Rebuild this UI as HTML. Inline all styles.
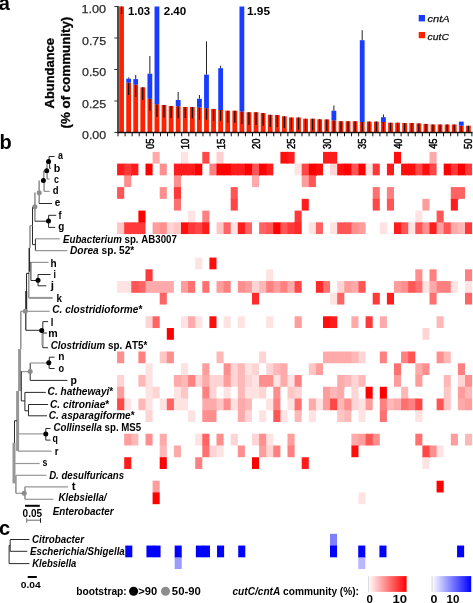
<!DOCTYPE html>
<html><head><meta charset="utf-8"><style>
html,body{margin:0;padding:0;background:#fff;}
body{width:473px;height:603px;overflow:hidden;position:relative;}
svg{position:absolute;left:0;top:0;display:block;}
text{font-family:"Liberation Sans", sans-serif;font-kerning:none;}
svg{will-change:transform;}
</style></head><body>
<svg width="473" height="603" viewBox="0 0 473 603" font-family='"Liberation Sans", sans-serif'>
<rect x="119.15" y="6.5" width="4.8" height="126" fill="#ff2200"/>
<line x1="121.55" y1="6.5" x2="121.55" y2="14" stroke="#111" stroke-width="1.2"/>
<rect x="126.23" y="82.7" width="4.8" height="49.8" fill="#ff2200"/>
<rect x="126.23" y="78.7" width="4.8" height="4" fill="#1a3cff"/>
<line x1="128.63" y1="77.4" x2="128.63" y2="78.7" stroke="#222" stroke-width="1"/>
<line x1="128.63" y1="82.7" x2="128.63" y2="95" stroke="#111" stroke-width="1.2"/>
<rect x="133.31" y="84.6" width="4.8" height="47.9" fill="#ff2200"/>
<rect x="133.31" y="79.1" width="4.8" height="5.5" fill="#1a3cff"/>
<line x1="135.71" y1="74.9" x2="135.71" y2="79.1" stroke="#222" stroke-width="1"/>
<line x1="135.71" y1="84.6" x2="135.71" y2="97" stroke="#111" stroke-width="1.2"/>
<rect x="140.38" y="87.3" width="4.8" height="45.2" fill="#ff2200"/>
<line x1="142.78" y1="87.3" x2="142.78" y2="100" stroke="#111" stroke-width="1.2"/>
<rect x="147.46" y="98.8" width="4.8" height="33.7" fill="#ff2200"/>
<rect x="147.46" y="73.7" width="4.8" height="25.1" fill="#1a3cff"/>
<line x1="149.86" y1="56" x2="149.86" y2="73.7" stroke="#222" stroke-width="1"/>
<line x1="149.86" y1="98.8" x2="149.86" y2="110.7" stroke="#111" stroke-width="1.2"/>
<rect x="154.54" y="104.2" width="4.8" height="28.3" fill="#ff2200"/>
<rect x="154.54" y="6.5" width="4.8" height="97.7" fill="#1a3cff"/>
<line x1="156.94" y1="104.2" x2="156.94" y2="116.7" stroke="#111" stroke-width="1.2"/>
<rect x="161.62" y="105" width="4.8" height="27.5" fill="#ff2200"/>
<line x1="164.02" y1="105" x2="164.02" y2="117.5" stroke="#111" stroke-width="1.2"/>
<rect x="168.7" y="106" width="4.8" height="26.5" fill="#ff2200"/>
<line x1="171.1" y1="106" x2="171.1" y2="118" stroke="#111" stroke-width="1.2"/>
<rect x="175.77" y="106.3" width="4.8" height="26.2" fill="#ff2200"/>
<rect x="175.77" y="100" width="4.8" height="6.3" fill="#1a3cff"/>
<line x1="178.17" y1="92" x2="178.17" y2="100" stroke="#222" stroke-width="1"/>
<line x1="178.17" y1="106.3" x2="178.17" y2="118.2" stroke="#111" stroke-width="1.2"/>
<rect x="182.85" y="107" width="4.8" height="25.5" fill="#ff2200"/>
<line x1="185.25" y1="107" x2="185.25" y2="118" stroke="#111" stroke-width="1.2"/>
<rect x="189.93" y="107" width="4.8" height="25.5" fill="#ff2200"/>
<line x1="192.33" y1="107" x2="192.33" y2="118.5" stroke="#111" stroke-width="1.2"/>
<rect x="197.01" y="107.5" width="4.8" height="25" fill="#ff2200"/>
<rect x="197.01" y="98.8" width="4.8" height="8.7" fill="#1a3cff"/>
<line x1="199.41" y1="95" x2="199.41" y2="98.8" stroke="#222" stroke-width="1"/>
<line x1="199.41" y1="107.5" x2="199.41" y2="119.7" stroke="#111" stroke-width="1.2"/>
<rect x="204.09" y="108.2" width="4.8" height="24.3" fill="#ff2200"/>
<rect x="204.09" y="74.6" width="4.8" height="33.6" fill="#1a3cff"/>
<line x1="206.49" y1="41.4" x2="206.49" y2="74.6" stroke="#222" stroke-width="1"/>
<line x1="206.49" y1="108.2" x2="206.49" y2="119.7" stroke="#111" stroke-width="1.2"/>
<rect x="211.16" y="109" width="4.8" height="23.5" fill="#ff2200"/>
<line x1="213.56" y1="109" x2="213.56" y2="121" stroke="#111" stroke-width="1.2"/>
<rect x="218.24" y="110" width="4.8" height="22.5" fill="#ff2200"/>
<rect x="218.24" y="68.2" width="4.8" height="41.8" fill="#1a3cff"/>
<line x1="220.64" y1="65.7" x2="220.64" y2="68.2" stroke="#222" stroke-width="1"/>
<line x1="220.64" y1="110" x2="220.64" y2="121" stroke="#111" stroke-width="1.2"/>
<rect x="225.32" y="110.7" width="4.8" height="21.8" fill="#ff2200"/>
<line x1="227.72" y1="110.7" x2="227.72" y2="122.7" stroke="#111" stroke-width="1.2"/>
<rect x="232.4" y="110.7" width="4.8" height="21.8" fill="#ff2200"/>
<line x1="234.8" y1="110.7" x2="234.8" y2="122.7" stroke="#111" stroke-width="1.2"/>
<rect x="239.48" y="111.5" width="4.8" height="21" fill="#ff2200"/>
<rect x="239.48" y="6.5" width="4.8" height="105" fill="#1a3cff"/>
<line x1="241.88" y1="111.5" x2="241.88" y2="124" stroke="#111" stroke-width="1.2"/>
<rect x="246.55" y="112.2" width="4.8" height="20.3" fill="#ff2200"/>
<line x1="248.95" y1="112.2" x2="248.95" y2="125" stroke="#111" stroke-width="1.2"/>
<rect x="253.63" y="112.2" width="4.8" height="20.3" fill="#ff2200"/>
<line x1="256.03" y1="112.2" x2="256.03" y2="125" stroke="#111" stroke-width="1.2"/>
<rect x="260.71" y="113" width="4.8" height="19.5" fill="#ff2200"/>
<line x1="263.11" y1="113" x2="263.11" y2="125.7" stroke="#111" stroke-width="1.2"/>
<rect x="267.79" y="114.8" width="4.8" height="17.7" fill="#ff2200"/>
<line x1="270.19" y1="114.8" x2="270.19" y2="127" stroke="#111" stroke-width="1.2"/>
<rect x="274.87" y="115" width="4.8" height="17.5" fill="#ff2200"/>
<line x1="277.27" y1="115" x2="277.27" y2="127" stroke="#111" stroke-width="1.2"/>
<rect x="281.94" y="116.3" width="4.8" height="16.2" fill="#ff2200"/>
<line x1="284.34" y1="116.3" x2="284.34" y2="128" stroke="#111" stroke-width="1.2"/>
<rect x="289.02" y="117.5" width="4.8" height="15" fill="#ff2200"/>
<line x1="291.42" y1="117.5" x2="291.42" y2="129.8" stroke="#111" stroke-width="1.2"/>
<rect x="296.1" y="117.5" width="4.8" height="15" fill="#ff2200"/>
<line x1="298.5" y1="117.5" x2="298.5" y2="129.8" stroke="#111" stroke-width="1.2"/>
<rect x="303.18" y="118.7" width="4.8" height="13.8" fill="#ff2200"/>
<line x1="305.58" y1="118.7" x2="305.58" y2="130.5" stroke="#111" stroke-width="1.2"/>
<rect x="310.26" y="118.7" width="4.8" height="13.8" fill="#ff2200"/>
<line x1="312.66" y1="118.7" x2="312.66" y2="130.5" stroke="#111" stroke-width="1.2"/>
<rect x="317.33" y="119.3" width="4.8" height="13.2" fill="#ff2200"/>
<line x1="319.73" y1="119.3" x2="319.73" y2="131" stroke="#111" stroke-width="1.2"/>
<rect x="324.41" y="119.4" width="4.8" height="13.1" fill="#ff2200"/>
<line x1="326.81" y1="119.4" x2="326.81" y2="131" stroke="#111" stroke-width="1.2"/>
<rect x="331.49" y="120.4" width="4.8" height="12.1" fill="#ff2200"/>
<rect x="331.49" y="110.7" width="4.8" height="9.7" fill="#1a3cff"/>
<line x1="333.89" y1="105.5" x2="333.89" y2="110.7" stroke="#222" stroke-width="1"/>
<line x1="333.89" y1="120.4" x2="333.89" y2="131.5" stroke="#111" stroke-width="1.2"/>
<rect x="338.57" y="121.2" width="4.8" height="11.3" fill="#ff2200"/>
<line x1="340.97" y1="121.2" x2="340.97" y2="131.5" stroke="#111" stroke-width="1.2"/>
<rect x="345.65" y="121.2" width="4.8" height="11.3" fill="#ff2200"/>
<line x1="348.05" y1="121.2" x2="348.05" y2="131.5" stroke="#111" stroke-width="1.2"/>
<rect x="352.72" y="121.2" width="4.8" height="11.3" fill="#ff2200"/>
<line x1="355.12" y1="121.2" x2="355.12" y2="131.5" stroke="#111" stroke-width="1.2"/>
<rect x="359.8" y="122" width="4.8" height="10.5" fill="#ff2200"/>
<rect x="359.8" y="40.2" width="4.8" height="81.8" fill="#1a3cff"/>
<line x1="362.2" y1="30.2" x2="362.2" y2="40.2" stroke="#222" stroke-width="1"/>
<line x1="362.2" y1="122" x2="362.2" y2="131.5" stroke="#111" stroke-width="1.2"/>
<rect x="366.88" y="121.6" width="4.8" height="10.9" fill="#ff2200"/>
<line x1="369.28" y1="121.6" x2="369.28" y2="131.5" stroke="#111" stroke-width="1.2"/>
<rect x="373.96" y="121.6" width="4.8" height="10.9" fill="#ff2200"/>
<line x1="376.36" y1="121.6" x2="376.36" y2="131.5" stroke="#111" stroke-width="1.2"/>
<rect x="381.04" y="122" width="4.8" height="10.5" fill="#ff2200"/>
<rect x="381.04" y="117.2" width="4.8" height="4.8" fill="#1a3cff"/>
<line x1="383.44" y1="114.5" x2="383.44" y2="117.2" stroke="#222" stroke-width="1"/>
<line x1="383.44" y1="122" x2="383.44" y2="131.5" stroke="#111" stroke-width="1.2"/>
<rect x="388.11" y="122.7" width="4.8" height="9.8" fill="#ff2200"/>
<line x1="390.51" y1="122.7" x2="390.51" y2="131.5" stroke="#111" stroke-width="1.2"/>
<rect x="395.19" y="122.7" width="4.8" height="9.8" fill="#ff2200"/>
<line x1="397.59" y1="122.7" x2="397.59" y2="131.5" stroke="#111" stroke-width="1.2"/>
<rect x="402.27" y="123" width="4.8" height="9.5" fill="#ff2200"/>
<line x1="404.67" y1="123" x2="404.67" y2="131.5" stroke="#111" stroke-width="1.2"/>
<rect x="409.35" y="123" width="4.8" height="9.5" fill="#ff2200"/>
<line x1="411.75" y1="123" x2="411.75" y2="131.5" stroke="#111" stroke-width="1.2"/>
<rect x="416.43" y="123.4" width="4.8" height="9.1" fill="#ff2200"/>
<line x1="418.83" y1="123.4" x2="418.83" y2="131.5" stroke="#111" stroke-width="1.2"/>
<rect x="423.5" y="123.9" width="4.8" height="8.6" fill="#ff2200"/>
<line x1="425.9" y1="123.9" x2="425.9" y2="131.5" stroke="#111" stroke-width="1.2"/>
<rect x="430.58" y="124.5" width="4.8" height="8" fill="#ff2200"/>
<line x1="432.98" y1="124.5" x2="432.98" y2="131.5" stroke="#111" stroke-width="1.2"/>
<rect x="437.66" y="124.5" width="4.8" height="8" fill="#ff2200"/>
<line x1="440.06" y1="124.5" x2="440.06" y2="131.5" stroke="#111" stroke-width="1.2"/>
<rect x="444.74" y="124.5" width="4.8" height="8" fill="#ff2200"/>
<line x1="447.14" y1="124.5" x2="447.14" y2="131.5" stroke="#111" stroke-width="1.2"/>
<rect x="451.82" y="124.5" width="4.8" height="8" fill="#ff2200"/>
<line x1="454.22" y1="124.5" x2="454.22" y2="131.5" stroke="#111" stroke-width="1.2"/>
<rect x="458.89" y="125.7" width="4.8" height="6.8" fill="#ff2200"/>
<rect x="458.89" y="121.6" width="4.8" height="4.1" fill="#1a3cff"/>
<line x1="461.29" y1="125.7" x2="461.29" y2="131.5" stroke="#111" stroke-width="1.2"/>
<rect x="465.97" y="125.7" width="4.8" height="6.8" fill="#ff2200"/>
<line x1="468.37" y1="125.7" x2="468.37" y2="131.5" stroke="#111" stroke-width="1.2"/>
<line x1="118.0" y1="6.0" x2="118.0" y2="132.5" stroke="#222" stroke-width="1.6"/>
<line x1="117.4" y1="132.5" x2="472.5" y2="132.5" stroke="#111" stroke-width="1.4"/>
<line x1="114.4" y1="132.5" x2="118.0" y2="132.5" stroke="#333" stroke-width="1"/>
<text x="82.01" y="139.1" font-size="11.6" fill="#2a2a2a" textLength="24.17" lengthAdjust="spacingAndGlyphs" stroke="#2a2a2a" stroke-width="0.25"><tspan font-weight="normal" font-style="normal">0.00</tspan></text>
<line x1="114.4" y1="101" x2="118.0" y2="101" stroke="#333" stroke-width="1"/>
<text x="82.01" y="107.6" font-size="11.6" fill="#2a2a2a" textLength="24.21" lengthAdjust="spacingAndGlyphs" stroke="#2a2a2a" stroke-width="0.25"><tspan font-weight="normal" font-style="normal">0.25</tspan></text>
<line x1="114.4" y1="69.5" x2="118.0" y2="69.5" stroke="#333" stroke-width="1"/>
<text x="82.01" y="76.1" font-size="11.6" fill="#2a2a2a" textLength="24.17" lengthAdjust="spacingAndGlyphs" stroke="#2a2a2a" stroke-width="0.25"><tspan font-weight="normal" font-style="normal">0.50</tspan></text>
<line x1="114.4" y1="38" x2="118.0" y2="38" stroke="#333" stroke-width="1"/>
<text x="82.01" y="44.6" font-size="11.6" fill="#2a2a2a" textLength="24.21" lengthAdjust="spacingAndGlyphs" stroke="#2a2a2a" stroke-width="0.25"><tspan font-weight="normal" font-style="normal">0.75</tspan></text>
<line x1="114.4" y1="6.5" x2="118.0" y2="6.5" stroke="#333" stroke-width="1"/>
<text x="81.53" y="13.1" font-size="11.6" fill="#2a2a2a" textLength="24.66" lengthAdjust="spacingAndGlyphs" stroke="#2a2a2a" stroke-width="0.25"><tspan font-weight="normal" font-style="normal">1.00</tspan></text>
<line x1="118" y1="132.5" x2="118" y2="136.3" stroke="#111" stroke-width="1"/>
<line x1="125.08" y1="132.5" x2="125.08" y2="136.3" stroke="#111" stroke-width="1"/>
<line x1="132.16" y1="132.5" x2="132.16" y2="136.3" stroke="#111" stroke-width="1"/>
<line x1="139.23" y1="132.5" x2="139.23" y2="136.3" stroke="#111" stroke-width="1"/>
<line x1="146.31" y1="132.5" x2="146.31" y2="136.3" stroke="#111" stroke-width="1"/>
<line x1="153.39" y1="132.5" x2="153.39" y2="136.3" stroke="#111" stroke-width="1"/>
<line x1="160.47" y1="132.5" x2="160.47" y2="136.3" stroke="#111" stroke-width="1"/>
<line x1="167.55" y1="132.5" x2="167.55" y2="136.3" stroke="#111" stroke-width="1"/>
<line x1="174.62" y1="132.5" x2="174.62" y2="136.3" stroke="#111" stroke-width="1"/>
<line x1="181.7" y1="132.5" x2="181.7" y2="136.3" stroke="#111" stroke-width="1"/>
<line x1="188.78" y1="132.5" x2="188.78" y2="136.3" stroke="#111" stroke-width="1"/>
<line x1="195.86" y1="132.5" x2="195.86" y2="136.3" stroke="#111" stroke-width="1"/>
<line x1="202.94" y1="132.5" x2="202.94" y2="136.3" stroke="#111" stroke-width="1"/>
<line x1="210.01" y1="132.5" x2="210.01" y2="136.3" stroke="#111" stroke-width="1"/>
<line x1="217.09" y1="132.5" x2="217.09" y2="136.3" stroke="#111" stroke-width="1"/>
<line x1="224.17" y1="132.5" x2="224.17" y2="136.3" stroke="#111" stroke-width="1"/>
<line x1="231.25" y1="132.5" x2="231.25" y2="136.3" stroke="#111" stroke-width="1"/>
<line x1="238.33" y1="132.5" x2="238.33" y2="136.3" stroke="#111" stroke-width="1"/>
<line x1="245.4" y1="132.5" x2="245.4" y2="136.3" stroke="#111" stroke-width="1"/>
<line x1="252.48" y1="132.5" x2="252.48" y2="136.3" stroke="#111" stroke-width="1"/>
<line x1="259.56" y1="132.5" x2="259.56" y2="136.3" stroke="#111" stroke-width="1"/>
<line x1="266.64" y1="132.5" x2="266.64" y2="136.3" stroke="#111" stroke-width="1"/>
<line x1="273.72" y1="132.5" x2="273.72" y2="136.3" stroke="#111" stroke-width="1"/>
<line x1="280.79" y1="132.5" x2="280.79" y2="136.3" stroke="#111" stroke-width="1"/>
<line x1="287.87" y1="132.5" x2="287.87" y2="136.3" stroke="#111" stroke-width="1"/>
<line x1="294.95" y1="132.5" x2="294.95" y2="136.3" stroke="#111" stroke-width="1"/>
<line x1="302.03" y1="132.5" x2="302.03" y2="136.3" stroke="#111" stroke-width="1"/>
<line x1="309.11" y1="132.5" x2="309.11" y2="136.3" stroke="#111" stroke-width="1"/>
<line x1="316.18" y1="132.5" x2="316.18" y2="136.3" stroke="#111" stroke-width="1"/>
<line x1="323.26" y1="132.5" x2="323.26" y2="136.3" stroke="#111" stroke-width="1"/>
<line x1="330.34" y1="132.5" x2="330.34" y2="136.3" stroke="#111" stroke-width="1"/>
<line x1="337.42" y1="132.5" x2="337.42" y2="136.3" stroke="#111" stroke-width="1"/>
<line x1="344.5" y1="132.5" x2="344.5" y2="136.3" stroke="#111" stroke-width="1"/>
<line x1="351.57" y1="132.5" x2="351.57" y2="136.3" stroke="#111" stroke-width="1"/>
<line x1="358.65" y1="132.5" x2="358.65" y2="136.3" stroke="#111" stroke-width="1"/>
<line x1="365.73" y1="132.5" x2="365.73" y2="136.3" stroke="#111" stroke-width="1"/>
<line x1="372.81" y1="132.5" x2="372.81" y2="136.3" stroke="#111" stroke-width="1"/>
<line x1="379.89" y1="132.5" x2="379.89" y2="136.3" stroke="#111" stroke-width="1"/>
<line x1="386.96" y1="132.5" x2="386.96" y2="136.3" stroke="#111" stroke-width="1"/>
<line x1="394.04" y1="132.5" x2="394.04" y2="136.3" stroke="#111" stroke-width="1"/>
<line x1="401.12" y1="132.5" x2="401.12" y2="136.3" stroke="#111" stroke-width="1"/>
<line x1="408.2" y1="132.5" x2="408.2" y2="136.3" stroke="#111" stroke-width="1"/>
<line x1="415.28" y1="132.5" x2="415.28" y2="136.3" stroke="#111" stroke-width="1"/>
<line x1="422.35" y1="132.5" x2="422.35" y2="136.3" stroke="#111" stroke-width="1"/>
<line x1="429.43" y1="132.5" x2="429.43" y2="136.3" stroke="#111" stroke-width="1"/>
<line x1="436.51" y1="132.5" x2="436.51" y2="136.3" stroke="#111" stroke-width="1"/>
<line x1="443.59" y1="132.5" x2="443.59" y2="136.3" stroke="#111" stroke-width="1"/>
<line x1="450.67" y1="132.5" x2="450.67" y2="136.3" stroke="#111" stroke-width="1"/>
<line x1="457.74" y1="132.5" x2="457.74" y2="136.3" stroke="#111" stroke-width="1"/>
<line x1="464.82" y1="132.5" x2="464.82" y2="136.3" stroke="#111" stroke-width="1"/>
<line x1="471.9" y1="132.5" x2="471.9" y2="136.3" stroke="#111" stroke-width="1"/>
<text transform="translate(153.86,148.60) rotate(-90)" x="-0.37" y="0" font-size="10.0" fill="#000" textLength="10.46" lengthAdjust="spacingAndGlyphs" stroke="#000" stroke-width="0.45"><tspan font-weight="normal" font-style="normal">05</tspan></text>
<text transform="translate(189.25,148.60) rotate(-90)" x="-0.74" y="0" font-size="10.0" fill="#000" textLength="10.82" lengthAdjust="spacingAndGlyphs" stroke="#000" stroke-width="0.45"><tspan font-weight="normal" font-style="normal">10</tspan></text>
<text transform="translate(224.64,148.60) rotate(-90)" x="-0.74" y="0" font-size="10.0" fill="#000" textLength="10.85" lengthAdjust="spacingAndGlyphs" stroke="#000" stroke-width="0.45"><tspan font-weight="normal" font-style="normal">15</tspan></text>
<text transform="translate(260.03,148.60) rotate(-90)" x="-0.48" y="0" font-size="10.0" fill="#000" textLength="10.55" lengthAdjust="spacingAndGlyphs" stroke="#000" stroke-width="0.45"><tspan font-weight="normal" font-style="normal">20</tspan></text>
<text transform="translate(295.42,148.60) rotate(-90)" x="-0.48" y="0" font-size="10.0" fill="#000" textLength="10.58" lengthAdjust="spacingAndGlyphs" stroke="#000" stroke-width="0.45"><tspan font-weight="normal" font-style="normal">25</tspan></text>
<text transform="translate(330.81,148.60) rotate(-90)" x="-0.36" y="0" font-size="10.0" fill="#000" textLength="10.42" lengthAdjust="spacingAndGlyphs" stroke="#000" stroke-width="0.45"><tspan font-weight="normal" font-style="normal">30</tspan></text>
<text transform="translate(366.20,148.60) rotate(-90)" x="-0.36" y="0" font-size="10.0" fill="#000" textLength="10.45" lengthAdjust="spacingAndGlyphs" stroke="#000" stroke-width="0.45"><tspan font-weight="normal" font-style="normal">35</tspan></text>
<text transform="translate(401.59,148.60) rotate(-90)" x="-0.21" y="0" font-size="10.0" fill="#000" textLength="10.27" lengthAdjust="spacingAndGlyphs" stroke="#000" stroke-width="0.45"><tspan font-weight="normal" font-style="normal">40</tspan></text>
<text transform="translate(436.98,148.60) rotate(-90)" x="-0.21" y="0" font-size="10.0" fill="#000" textLength="10.30" lengthAdjust="spacingAndGlyphs" stroke="#000" stroke-width="0.45"><tspan font-weight="normal" font-style="normal">45</tspan></text>
<text transform="translate(472.37,148.60) rotate(-90)" x="-0.38" y="0" font-size="10.0" fill="#000" textLength="10.44" lengthAdjust="spacingAndGlyphs" stroke="#000" stroke-width="0.45"><tspan font-weight="normal" font-style="normal">50</tspan></text>
<text x="127.98" y="14.6" font-size="11.3" fill="#000" textLength="22.23" lengthAdjust="spacingAndGlyphs"><tspan font-weight="bold" font-style="normal">1.03</tspan></text>
<text x="163.70" y="14.6" font-size="11.3" fill="#000" textLength="22.58" lengthAdjust="spacingAndGlyphs"><tspan font-weight="bold" font-style="normal">2.40</tspan></text>
<text x="246.95" y="14.6" font-size="11.3" fill="#000" textLength="23.08" lengthAdjust="spacingAndGlyphs"><tspan font-weight="bold" font-style="normal">1.95</tspan></text>
<rect x="418.7" y="15" width="6.3" height="6.4" fill="#1a3cff"/>
<rect x="418.7" y="32" width="6.3" height="6.2" fill="#ff2200"/>
<text x="427.44" y="22.4" font-size="9.6" fill="#111" textLength="22.26" lengthAdjust="spacingAndGlyphs" stroke="#111" stroke-width="0.25"><tspan font-weight="normal" font-style="italic">cntA</tspan></text>
<text x="427.46" y="39.7" font-size="9.6" fill="#111" textLength="21.49" lengthAdjust="spacingAndGlyphs" stroke="#111" stroke-width="0.25"><tspan font-weight="normal" font-style="italic">cutC</tspan></text>
<text transform="translate(54.00,108.10) rotate(-90)" x="-0.32" y="0" font-size="13.3" fill="#000" textLength="70.36" lengthAdjust="spacingAndGlyphs" stroke="#000" stroke-width="0.3"><tspan font-weight="bold" font-style="normal">Abundance</tspan></text>
<text transform="translate(69.90,127.80) rotate(-90)" x="-0.66" y="0" font-size="13.6" fill="#000" textLength="111.73" lengthAdjust="spacingAndGlyphs" stroke="#000" stroke-width="0.3"><tspan font-weight="bold" font-style="normal">(% of community)</tspan></text>
<text x="-1.2" y="10.4" font-size="20" font-weight="bold" fill="#000">a</text>
<text x="-0.6" y="148.8" font-size="20" font-weight="bold" fill="#000">b</text>
<text x="-1.0" y="534.7" font-size="20" font-weight="bold" fill="#000">c</text>
<rect x="152.6" y="151.86" width="7.1" height="11.74" fill="rgb(255,170,170)"/>
<rect x="181" y="151.86" width="7.1" height="12.54" fill="rgb(255,227,227)"/>
<rect x="202.3" y="151.86" width="7.1" height="11.74" fill="rgb(255,71,71)"/>
<rect x="216.5" y="151.86" width="7.1" height="12.54" fill="rgb(255,207,207)"/>
<rect x="280.4" y="151.86" width="7.9" height="11.74" fill="rgb(255,14,14)"/>
<rect x="287.5" y="151.86" width="7.1" height="11.74" fill="rgb(255,28,28)"/>
<rect x="323" y="151.86" width="7.9" height="11.74" fill="rgb(255,28,28)"/>
<rect x="330.1" y="151.86" width="7.1" height="12.54" fill="rgb(255,28,28)"/>
<rect x="394" y="151.86" width="7.1" height="11.74" fill="rgb(255,14,14)"/>
<rect x="429.5" y="151.86" width="7.1" height="12.54" fill="rgb(255,170,170)"/>
<rect x="117.1" y="163.61" width="7.9" height="11.74" fill="rgb(255,28,28)"/>
<rect x="124.2" y="163.61" width="7.9" height="12.54" fill="rgb(255,57,57)"/>
<rect x="131.3" y="163.61" width="7.1" height="11.74" fill="rgb(255,28,28)"/>
<rect x="145.5" y="163.61" width="7.1" height="11.74" fill="rgb(255,0,0)"/>
<rect x="159.7" y="163.61" width="7.1" height="11.74" fill="rgb(255,142,142)"/>
<rect x="173.9" y="163.61" width="7.9" height="12.54" fill="rgb(255,28,28)"/>
<rect x="181" y="163.61" width="7.9" height="11.74" fill="rgb(255,28,28)"/>
<rect x="188.1" y="163.61" width="7.9" height="11.74" fill="rgb(255,28,28)"/>
<rect x="195.2" y="163.61" width="7.1" height="11.74" fill="rgb(255,0,0)"/>
<rect x="209.4" y="163.61" width="7.9" height="11.74" fill="rgb(255,128,128)"/>
<rect x="216.5" y="163.61" width="7.9" height="11.74" fill="rgb(255,0,0)"/>
<rect x="223.6" y="163.61" width="7.9" height="11.74" fill="rgb(255,0,0)"/>
<rect x="230.7" y="163.61" width="7.9" height="11.74" fill="rgb(255,28,28)"/>
<rect x="237.8" y="163.61" width="7.9" height="11.74" fill="rgb(255,28,28)"/>
<rect x="244.9" y="163.61" width="7.9" height="11.74" fill="rgb(255,0,0)"/>
<rect x="252" y="163.61" width="7.9" height="12.54" fill="rgb(255,85,85)"/>
<rect x="259.1" y="163.61" width="7.9" height="11.74" fill="rgb(255,0,0)"/>
<rect x="266.2" y="163.61" width="7.1" height="11.74" fill="rgb(255,28,28)"/>
<rect x="294.6" y="163.61" width="7.9" height="11.74" fill="rgb(255,227,227)"/>
<rect x="301.7" y="163.61" width="7.9" height="12.54" fill="rgb(255,71,71)"/>
<rect x="308.8" y="163.61" width="7.9" height="12.54" fill="rgb(255,0,0)"/>
<rect x="315.9" y="163.61" width="7.1" height="11.74" fill="rgb(255,14,14)"/>
<rect x="330.1" y="163.61" width="7.9" height="11.74" fill="rgb(255,212,212)"/>
<rect x="337.2" y="163.61" width="7.9" height="11.74" fill="rgb(255,14,14)"/>
<rect x="344.3" y="163.61" width="7.9" height="11.74" fill="rgb(255,0,0)"/>
<rect x="351.4" y="163.61" width="7.9" height="11.74" fill="rgb(255,85,85)"/>
<rect x="358.5" y="163.61" width="7.9" height="11.74" fill="rgb(255,0,0)"/>
<rect x="365.6" y="163.61" width="7.9" height="11.74" fill="rgb(255,227,227)"/>
<rect x="372.7" y="163.61" width="7.1" height="11.74" fill="rgb(255,57,57)"/>
<rect x="386.9" y="163.61" width="7.1" height="11.74" fill="rgb(255,28,28)"/>
<rect x="401.1" y="163.61" width="7.9" height="11.74" fill="rgb(255,14,14)"/>
<rect x="408.2" y="163.61" width="7.9" height="11.74" fill="rgb(255,14,14)"/>
<rect x="415.3" y="163.61" width="7.9" height="11.74" fill="rgb(255,71,71)"/>
<rect x="422.4" y="163.61" width="7.9" height="11.74" fill="rgb(255,14,14)"/>
<rect x="429.5" y="163.61" width="7.1" height="11.74" fill="rgb(255,71,71)"/>
<rect x="443.7" y="163.61" width="7.9" height="11.74" fill="rgb(255,0,0)"/>
<rect x="450.8" y="163.61" width="7.9" height="11.74" fill="rgb(255,57,57)"/>
<rect x="457.9" y="163.61" width="7.9" height="11.74" fill="rgb(255,0,0)"/>
<rect x="465" y="163.61" width="7.1" height="11.74" fill="rgb(255,57,57)"/>
<rect x="124.2" y="175.35" width="7.1" height="11.74" fill="rgb(255,142,142)"/>
<rect x="173.9" y="175.35" width="7.1" height="12.54" fill="rgb(255,142,142)"/>
<rect x="252" y="175.35" width="7.1" height="11.74" fill="rgb(255,170,170)"/>
<rect x="301.7" y="175.35" width="7.9" height="11.74" fill="rgb(255,156,156)"/>
<rect x="308.8" y="175.35" width="7.1" height="11.74" fill="rgb(255,85,85)"/>
<rect x="117.1" y="187.1" width="7.1" height="11.74" fill="rgb(255,85,85)"/>
<rect x="159.7" y="187.1" width="7.1" height="11.74" fill="rgb(255,142,142)"/>
<rect x="173.9" y="187.1" width="7.1" height="12.54" fill="rgb(255,57,57)"/>
<rect x="230.7" y="187.1" width="7.1" height="12.54" fill="rgb(255,85,85)"/>
<rect x="372.7" y="187.1" width="7.1" height="12.54" fill="rgb(255,113,113)"/>
<rect x="386.9" y="187.1" width="7.1" height="12.54" fill="rgb(255,128,128)"/>
<rect x="450.8" y="187.1" width="7.9" height="12.54" fill="rgb(255,99,99)"/>
<rect x="457.9" y="187.1" width="7.1" height="11.74" fill="rgb(255,99,99)"/>
<rect x="173.9" y="198.84" width="7.1" height="11.74" fill="rgb(255,113,113)"/>
<rect x="230.7" y="198.84" width="7.1" height="11.74" fill="rgb(255,71,71)"/>
<rect x="301.7" y="198.84" width="7.1" height="11.74" fill="rgb(255,28,28)"/>
<rect x="372.7" y="198.84" width="7.1" height="11.74" fill="rgb(255,71,71)"/>
<rect x="386.9" y="198.84" width="7.1" height="11.74" fill="rgb(255,85,85)"/>
<rect x="422.4" y="198.84" width="7.1" height="11.74" fill="rgb(255,156,156)"/>
<rect x="450.8" y="198.84" width="7.1" height="11.74" fill="rgb(255,28,28)"/>
<rect x="138.4" y="210.59" width="7.1" height="12.54" fill="rgb(255,0,0)"/>
<rect x="188.1" y="210.59" width="7.1" height="12.54" fill="rgb(255,227,227)"/>
<rect x="202.3" y="210.59" width="7.1" height="12.54" fill="rgb(255,128,128)"/>
<rect x="294.6" y="210.59" width="7.1" height="12.54" fill="rgb(255,57,57)"/>
<rect x="415.3" y="210.59" width="7.1" height="12.54" fill="rgb(255,227,227)"/>
<rect x="436.6" y="210.59" width="7.1" height="12.54" fill="rgb(255,85,85)"/>
<rect x="117.1" y="222.33" width="7.9" height="11.74" fill="rgb(255,198,198)"/>
<rect x="124.2" y="222.33" width="7.9" height="11.74" fill="rgb(255,57,57)"/>
<rect x="131.3" y="222.33" width="7.9" height="11.74" fill="rgb(255,57,57)"/>
<rect x="138.4" y="222.33" width="7.1" height="11.74" fill="rgb(255,57,57)"/>
<rect x="152.6" y="222.33" width="7.9" height="11.74" fill="rgb(255,156,156)"/>
<rect x="159.7" y="222.33" width="7.9" height="11.74" fill="rgb(255,142,142)"/>
<rect x="166.8" y="222.33" width="7.9" height="11.74" fill="rgb(255,212,212)"/>
<rect x="173.9" y="222.33" width="7.9" height="11.74" fill="rgb(255,198,198)"/>
<rect x="181" y="222.33" width="7.9" height="11.74" fill="rgb(255,14,14)"/>
<rect x="188.1" y="222.33" width="7.9" height="11.74" fill="rgb(255,57,57)"/>
<rect x="195.2" y="222.33" width="7.9" height="11.74" fill="rgb(255,71,71)"/>
<rect x="202.3" y="222.33" width="7.1" height="11.74" fill="rgb(255,28,28)"/>
<rect x="216.5" y="222.33" width="7.9" height="11.74" fill="rgb(255,198,198)"/>
<rect x="223.6" y="222.33" width="7.9" height="11.74" fill="rgb(255,99,99)"/>
<rect x="230.7" y="222.33" width="7.9" height="11.74" fill="rgb(255,227,227)"/>
<rect x="237.8" y="222.33" width="7.9" height="11.74" fill="rgb(255,28,28)"/>
<rect x="244.9" y="222.33" width="7.1" height="11.74" fill="rgb(255,99,99)"/>
<rect x="259.1" y="222.33" width="7.9" height="11.74" fill="rgb(255,99,99)"/>
<rect x="266.2" y="222.33" width="7.9" height="11.74" fill="rgb(255,85,85)"/>
<rect x="273.3" y="222.33" width="7.9" height="11.74" fill="rgb(255,0,0)"/>
<rect x="280.4" y="222.33" width="7.9" height="11.74" fill="rgb(255,85,85)"/>
<rect x="287.5" y="222.33" width="7.9" height="11.74" fill="rgb(255,57,57)"/>
<rect x="294.6" y="222.33" width="7.1" height="11.74" fill="rgb(255,42,42)"/>
<rect x="308.8" y="222.33" width="7.9" height="11.74" fill="rgb(255,227,227)"/>
<rect x="315.9" y="222.33" width="7.1" height="11.74" fill="rgb(255,99,99)"/>
<rect x="330.1" y="222.33" width="7.9" height="11.74" fill="rgb(255,227,227)"/>
<rect x="337.2" y="222.33" width="7.9" height="11.74" fill="rgb(255,85,85)"/>
<rect x="344.3" y="222.33" width="7.9" height="11.74" fill="rgb(255,85,85)"/>
<rect x="351.4" y="222.33" width="7.9" height="11.74" fill="rgb(255,142,142)"/>
<rect x="358.5" y="222.33" width="7.1" height="11.74" fill="rgb(255,156,156)"/>
<rect x="379.8" y="222.33" width="7.1" height="11.74" fill="rgb(255,227,227)"/>
<rect x="394" y="222.33" width="7.9" height="11.74" fill="rgb(255,28,28)"/>
<rect x="401.1" y="222.33" width="7.9" height="11.74" fill="rgb(255,85,85)"/>
<rect x="408.2" y="222.33" width="7.9" height="11.74" fill="rgb(255,227,227)"/>
<rect x="415.3" y="222.33" width="7.9" height="11.74" fill="rgb(255,85,85)"/>
<rect x="422.4" y="222.33" width="7.9" height="11.74" fill="rgb(255,142,142)"/>
<rect x="429.5" y="222.33" width="7.9" height="11.74" fill="rgb(255,28,28)"/>
<rect x="436.6" y="222.33" width="7.9" height="11.74" fill="rgb(255,156,156)"/>
<rect x="443.7" y="222.33" width="7.9" height="11.74" fill="rgb(255,85,85)"/>
<rect x="450.8" y="222.33" width="7.9" height="11.74" fill="rgb(255,170,170)"/>
<rect x="457.9" y="222.33" width="7.9" height="11.74" fill="rgb(255,184,184)"/>
<rect x="465" y="222.33" width="7.1" height="11.74" fill="rgb(255,57,57)"/>
<rect x="195.2" y="257.56" width="7.1" height="11.74" fill="rgb(255,227,227)"/>
<rect x="209.4" y="257.56" width="7.1" height="11.74" fill="rgb(255,14,14)"/>
<rect x="145.5" y="269.31" width="7.1" height="12.54" fill="rgb(255,57,57)"/>
<rect x="266.2" y="269.31" width="7.1" height="12.54" fill="rgb(255,227,227)"/>
<rect x="415.3" y="269.31" width="7.1" height="12.54" fill="rgb(255,142,142)"/>
<rect x="429.5" y="269.31" width="7.1" height="12.54" fill="rgb(255,128,128)"/>
<rect x="465" y="269.31" width="7.1" height="12.54" fill="rgb(255,128,128)"/>
<rect x="117.1" y="281.06" width="7.9" height="11.74" fill="rgb(255,227,227)"/>
<rect x="124.2" y="281.06" width="7.9" height="11.74" fill="rgb(255,227,227)"/>
<rect x="131.3" y="281.06" width="7.9" height="11.74" fill="rgb(255,85,85)"/>
<rect x="138.4" y="281.06" width="7.9" height="11.74" fill="rgb(255,99,99)"/>
<rect x="145.5" y="281.06" width="7.9" height="11.74" fill="rgb(255,170,170)"/>
<rect x="152.6" y="281.06" width="7.9" height="11.74" fill="rgb(255,170,170)"/>
<rect x="159.7" y="281.06" width="7.9" height="12.54" fill="rgb(255,170,170)"/>
<rect x="166.8" y="281.06" width="7.1" height="11.74" fill="rgb(255,170,170)"/>
<rect x="181" y="281.06" width="7.9" height="11.74" fill="rgb(255,156,156)"/>
<rect x="188.1" y="281.06" width="7.1" height="11.74" fill="rgb(255,113,113)"/>
<rect x="202.3" y="281.06" width="7.1" height="11.74" fill="rgb(255,113,113)"/>
<rect x="216.5" y="281.06" width="7.9" height="11.74" fill="rgb(255,156,156)"/>
<rect x="223.6" y="281.06" width="7.1" height="11.74" fill="rgb(255,128,128)"/>
<rect x="237.8" y="281.06" width="7.9" height="11.74" fill="rgb(255,142,142)"/>
<rect x="244.9" y="281.06" width="7.9" height="11.74" fill="rgb(255,156,156)"/>
<rect x="252" y="281.06" width="7.9" height="12.54" fill="rgb(255,212,212)"/>
<rect x="259.1" y="281.06" width="7.9" height="11.74" fill="rgb(255,184,184)"/>
<rect x="266.2" y="281.06" width="7.9" height="11.74" fill="rgb(255,128,128)"/>
<rect x="273.3" y="281.06" width="7.9" height="11.74" fill="rgb(255,156,156)"/>
<rect x="280.4" y="281.06" width="7.9" height="11.74" fill="rgb(255,128,128)"/>
<rect x="287.5" y="281.06" width="7.9" height="11.74" fill="rgb(255,170,170)"/>
<rect x="294.6" y="281.06" width="7.1" height="11.74" fill="rgb(255,71,71)"/>
<rect x="315.9" y="281.06" width="7.9" height="11.74" fill="rgb(255,42,42)"/>
<rect x="323" y="281.06" width="7.1" height="11.74" fill="rgb(255,113,113)"/>
<rect x="337.2" y="281.06" width="7.9" height="12.54" fill="rgb(255,212,212)"/>
<rect x="344.3" y="281.06" width="7.9" height="11.74" fill="rgb(255,156,156)"/>
<rect x="351.4" y="281.06" width="7.9" height="11.74" fill="rgb(255,170,170)"/>
<rect x="358.5" y="281.06" width="7.1" height="11.74" fill="rgb(255,85,85)"/>
<rect x="394" y="281.06" width="7.9" height="11.74" fill="rgb(255,156,156)"/>
<rect x="401.1" y="281.06" width="7.9" height="11.74" fill="rgb(255,142,142)"/>
<rect x="408.2" y="281.06" width="7.9" height="11.74" fill="rgb(255,85,85)"/>
<rect x="415.3" y="281.06" width="7.9" height="11.74" fill="rgb(255,113,113)"/>
<rect x="422.4" y="281.06" width="7.9" height="11.74" fill="rgb(255,227,227)"/>
<rect x="429.5" y="281.06" width="7.9" height="12.54" fill="rgb(255,170,170)"/>
<rect x="436.6" y="281.06" width="7.9" height="11.74" fill="rgb(255,128,128)"/>
<rect x="443.7" y="281.06" width="7.9" height="11.74" fill="rgb(255,128,128)"/>
<rect x="450.8" y="281.06" width="7.1" height="11.74" fill="rgb(255,227,227)"/>
<rect x="465" y="281.06" width="7.1" height="12.54" fill="rgb(255,227,227)"/>
<rect x="159.7" y="292.8" width="7.1" height="11.74" fill="rgb(255,99,99)"/>
<rect x="252" y="292.8" width="7.1" height="11.74" fill="rgb(255,42,42)"/>
<rect x="330.1" y="292.8" width="7.9" height="11.74" fill="rgb(255,227,227)"/>
<rect x="337.2" y="292.8" width="7.1" height="11.74" fill="rgb(255,99,99)"/>
<rect x="372.7" y="292.8" width="7.1" height="11.74" fill="rgb(255,57,57)"/>
<rect x="386.9" y="292.8" width="7.1" height="11.74" fill="rgb(255,28,28)"/>
<rect x="429.5" y="292.8" width="7.1" height="11.74" fill="rgb(255,113,113)"/>
<rect x="465" y="292.8" width="7.1" height="11.74" fill="rgb(255,99,99)"/>
<rect x="145.5" y="316.29" width="7.9" height="11.74" fill="rgb(255,212,212)"/>
<rect x="152.6" y="316.29" width="7.1" height="11.74" fill="rgb(255,99,99)"/>
<rect x="181" y="316.29" width="7.9" height="11.74" fill="rgb(255,227,227)"/>
<rect x="188.1" y="316.29" width="7.9" height="11.74" fill="rgb(255,170,170)"/>
<rect x="195.2" y="316.29" width="7.1" height="11.74" fill="rgb(255,227,227)"/>
<rect x="209.4" y="316.29" width="7.1" height="11.74" fill="rgb(255,14,14)"/>
<rect x="223.6" y="316.29" width="7.1" height="11.74" fill="rgb(255,227,227)"/>
<rect x="237.8" y="316.29" width="7.1" height="11.74" fill="rgb(255,227,227)"/>
<rect x="266.2" y="316.29" width="7.1" height="11.74" fill="rgb(255,227,227)"/>
<rect x="294.6" y="316.29" width="7.1" height="11.74" fill="rgb(255,156,156)"/>
<rect x="323" y="316.29" width="7.9" height="11.74" fill="rgb(255,14,14)"/>
<rect x="330.1" y="316.29" width="7.1" height="11.74" fill="rgb(255,28,28)"/>
<rect x="351.4" y="316.29" width="7.1" height="11.74" fill="rgb(255,170,170)"/>
<rect x="365.6" y="316.29" width="7.1" height="11.74" fill="rgb(255,57,57)"/>
<rect x="379.8" y="316.29" width="7.1" height="11.74" fill="rgb(255,170,170)"/>
<rect x="436.6" y="316.29" width="7.1" height="11.74" fill="rgb(255,184,184)"/>
<rect x="166.8" y="328.03" width="7.1" height="11.74" fill="rgb(255,0,0)"/>
<rect x="422.4" y="328.03" width="7.1" height="11.74" fill="rgb(255,212,212)"/>
<rect x="117.1" y="351.52" width="7.1" height="11.74" fill="rgb(255,142,142)"/>
<rect x="138.4" y="351.52" width="7.1" height="11.74" fill="rgb(255,128,128)"/>
<rect x="159.7" y="351.52" width="7.9" height="11.74" fill="rgb(255,198,198)"/>
<rect x="166.8" y="351.52" width="7.1" height="11.74" fill="rgb(255,142,142)"/>
<rect x="216.5" y="351.52" width="7.1" height="11.74" fill="rgb(255,184,184)"/>
<rect x="259.1" y="351.52" width="7.1" height="11.74" fill="rgb(255,212,212)"/>
<rect x="323" y="351.52" width="7.9" height="11.74" fill="rgb(255,170,170)"/>
<rect x="330.1" y="351.52" width="7.9" height="11.74" fill="rgb(255,170,170)"/>
<rect x="337.2" y="351.52" width="7.9" height="11.74" fill="rgb(255,170,170)"/>
<rect x="344.3" y="351.52" width="7.9" height="11.74" fill="rgb(255,170,170)"/>
<rect x="351.4" y="351.52" width="7.9" height="11.74" fill="rgb(255,184,184)"/>
<rect x="358.5" y="351.52" width="7.1" height="11.74" fill="rgb(255,212,212)"/>
<rect x="379.8" y="351.52" width="7.1" height="11.74" fill="rgb(255,128,128)"/>
<rect x="401.1" y="351.52" width="7.9" height="11.74" fill="rgb(255,128,128)"/>
<rect x="408.2" y="351.52" width="7.1" height="11.74" fill="rgb(255,85,85)"/>
<rect x="436.6" y="351.52" width="7.9" height="11.74" fill="rgb(255,142,142)"/>
<rect x="443.7" y="351.52" width="7.1" height="11.74" fill="rgb(255,184,184)"/>
<rect x="145.5" y="363.27" width="7.1" height="12.54" fill="rgb(255,227,227)"/>
<rect x="181" y="363.27" width="7.1" height="12.54" fill="rgb(255,227,227)"/>
<rect x="202.3" y="363.27" width="7.1" height="12.54" fill="rgb(255,156,156)"/>
<rect x="223.6" y="363.27" width="7.9" height="12.54" fill="rgb(255,142,142)"/>
<rect x="230.7" y="363.27" width="7.9" height="12.54" fill="rgb(255,212,212)"/>
<rect x="237.8" y="363.27" width="7.9" height="12.54" fill="rgb(255,184,184)"/>
<rect x="244.9" y="363.27" width="7.9" height="12.54" fill="rgb(255,227,227)"/>
<rect x="252" y="363.27" width="7.1" height="12.54" fill="rgb(255,212,212)"/>
<rect x="266.2" y="363.27" width="7.9" height="12.54" fill="rgb(255,212,212)"/>
<rect x="273.3" y="363.27" width="7.9" height="12.54" fill="rgb(255,184,184)"/>
<rect x="280.4" y="363.27" width="7.1" height="12.54" fill="rgb(255,170,170)"/>
<rect x="308.8" y="363.27" width="7.9" height="11.74" fill="rgb(255,198,198)"/>
<rect x="315.9" y="363.27" width="7.1" height="11.74" fill="rgb(255,156,156)"/>
<rect x="394" y="363.27" width="7.1" height="12.54" fill="rgb(255,113,113)"/>
<rect x="415.3" y="363.27" width="7.9" height="12.54" fill="rgb(255,170,170)"/>
<rect x="422.4" y="363.27" width="7.1" height="11.74" fill="rgb(255,142,142)"/>
<rect x="457.9" y="363.27" width="7.1" height="12.54" fill="rgb(255,128,128)"/>
<rect x="117.1" y="375.01" width="7.1" height="12.54" fill="rgb(255,212,212)"/>
<rect x="138.4" y="375.01" width="7.9" height="11.74" fill="rgb(255,184,184)"/>
<rect x="145.5" y="375.01" width="7.1" height="12.54" fill="rgb(255,227,227)"/>
<rect x="173.9" y="375.01" width="7.9" height="12.54" fill="rgb(255,170,170)"/>
<rect x="181" y="375.01" width="7.9" height="12.54" fill="rgb(255,184,184)"/>
<rect x="188.1" y="375.01" width="7.9" height="11.74" fill="rgb(255,128,128)"/>
<rect x="195.2" y="375.01" width="7.9" height="11.74" fill="rgb(255,212,212)"/>
<rect x="202.3" y="375.01" width="7.9" height="12.54" fill="rgb(255,170,170)"/>
<rect x="209.4" y="375.01" width="7.9" height="12.54" fill="rgb(255,212,212)"/>
<rect x="216.5" y="375.01" width="7.9" height="11.74" fill="rgb(255,212,212)"/>
<rect x="223.6" y="375.01" width="7.9" height="12.54" fill="rgb(255,156,156)"/>
<rect x="230.7" y="375.01" width="7.9" height="11.74" fill="rgb(255,212,212)"/>
<rect x="237.8" y="375.01" width="7.9" height="12.54" fill="rgb(255,184,184)"/>
<rect x="244.9" y="375.01" width="7.9" height="12.54" fill="rgb(255,212,212)"/>
<rect x="252" y="375.01" width="7.9" height="12.54" fill="rgb(255,227,227)"/>
<rect x="259.1" y="375.01" width="7.9" height="12.54" fill="rgb(255,142,142)"/>
<rect x="266.2" y="375.01" width="7.9" height="11.74" fill="rgb(255,142,142)"/>
<rect x="273.3" y="375.01" width="7.9" height="12.54" fill="rgb(255,227,227)"/>
<rect x="280.4" y="375.01" width="7.9" height="11.74" fill="rgb(255,170,170)"/>
<rect x="287.5" y="375.01" width="7.9" height="12.54" fill="rgb(255,227,227)"/>
<rect x="294.6" y="375.01" width="7.1" height="12.54" fill="rgb(255,128,128)"/>
<rect x="337.2" y="375.01" width="7.9" height="12.54" fill="rgb(255,170,170)"/>
<rect x="344.3" y="375.01" width="7.9" height="11.74" fill="rgb(255,184,184)"/>
<rect x="351.4" y="375.01" width="7.9" height="12.54" fill="rgb(255,212,212)"/>
<rect x="358.5" y="375.01" width="7.1" height="11.74" fill="rgb(255,184,184)"/>
<rect x="394" y="375.01" width="7.1" height="11.74" fill="rgb(255,156,156)"/>
<rect x="415.3" y="375.01" width="7.1" height="11.74" fill="rgb(255,156,156)"/>
<rect x="443.7" y="375.01" width="7.1" height="12.54" fill="rgb(255,184,184)"/>
<rect x="457.9" y="375.01" width="7.9" height="12.54" fill="rgb(255,212,212)"/>
<rect x="465" y="375.01" width="7.1" height="12.54" fill="rgb(255,142,142)"/>
<rect x="117.1" y="386.76" width="7.1" height="12.54" fill="rgb(255,156,156)"/>
<rect x="145.5" y="386.76" width="7.9" height="12.54" fill="rgb(255,227,227)"/>
<rect x="152.6" y="386.76" width="7.1" height="11.74" fill="rgb(255,212,212)"/>
<rect x="173.9" y="386.76" width="7.9" height="12.54" fill="rgb(255,227,227)"/>
<rect x="181" y="386.76" width="7.1" height="12.54" fill="rgb(255,198,198)"/>
<rect x="202.3" y="386.76" width="7.9" height="12.54" fill="rgb(255,128,128)"/>
<rect x="209.4" y="386.76" width="7.1" height="12.54" fill="rgb(255,212,212)"/>
<rect x="223.6" y="386.76" width="7.1" height="12.54" fill="rgb(255,227,227)"/>
<rect x="237.8" y="386.76" width="7.9" height="12.54" fill="rgb(255,184,184)"/>
<rect x="244.9" y="386.76" width="7.9" height="12.54" fill="rgb(255,227,227)"/>
<rect x="252" y="386.76" width="7.9" height="11.74" fill="rgb(255,227,227)"/>
<rect x="259.1" y="386.76" width="7.1" height="11.74" fill="rgb(255,212,212)"/>
<rect x="273.3" y="386.76" width="7.1" height="12.54" fill="rgb(255,142,142)"/>
<rect x="287.5" y="386.76" width="7.9" height="12.54" fill="rgb(255,198,198)"/>
<rect x="294.6" y="386.76" width="7.1" height="12.54" fill="rgb(255,212,212)"/>
<rect x="323" y="386.76" width="7.9" height="12.54" fill="rgb(255,156,156)"/>
<rect x="330.1" y="386.76" width="7.9" height="12.54" fill="rgb(255,184,184)"/>
<rect x="337.2" y="386.76" width="7.1" height="12.54" fill="rgb(255,170,170)"/>
<rect x="351.4" y="386.76" width="7.1" height="12.54" fill="rgb(255,212,212)"/>
<rect x="365.6" y="386.76" width="7.1" height="12.54" fill="rgb(255,0,0)"/>
<rect x="379.8" y="386.76" width="7.1" height="12.54" fill="rgb(255,0,0)"/>
<rect x="401.1" y="386.76" width="7.1" height="12.54" fill="rgb(255,184,184)"/>
<rect x="443.7" y="386.76" width="7.1" height="12.54" fill="rgb(255,198,198)"/>
<rect x="457.9" y="386.76" width="7.9" height="12.54" fill="rgb(255,156,156)"/>
<rect x="465" y="386.76" width="7.1" height="12.54" fill="rgb(255,184,184)"/>
<rect x="117.1" y="398.5" width="7.9" height="11.74" fill="rgb(255,71,71)"/>
<rect x="124.2" y="398.5" width="7.1" height="11.74" fill="rgb(255,227,227)"/>
<rect x="138.4" y="398.5" width="7.9" height="11.74" fill="rgb(255,184,184)"/>
<rect x="145.5" y="398.5" width="7.1" height="12.54" fill="rgb(255,227,227)"/>
<rect x="159.7" y="398.5" width="7.9" height="11.74" fill="rgb(255,227,227)"/>
<rect x="166.8" y="398.5" width="7.9" height="11.74" fill="rgb(255,99,99)"/>
<rect x="173.9" y="398.5" width="7.9" height="11.74" fill="rgb(255,227,227)"/>
<rect x="181" y="398.5" width="7.1" height="11.74" fill="rgb(255,227,227)"/>
<rect x="202.3" y="398.5" width="7.9" height="12.54" fill="rgb(255,170,170)"/>
<rect x="209.4" y="398.5" width="7.9" height="12.54" fill="rgb(255,170,170)"/>
<rect x="216.5" y="398.5" width="7.9" height="11.74" fill="rgb(255,198,198)"/>
<rect x="223.6" y="398.5" width="7.9" height="11.74" fill="rgb(255,142,142)"/>
<rect x="230.7" y="398.5" width="7.9" height="11.74" fill="rgb(255,227,227)"/>
<rect x="237.8" y="398.5" width="7.9" height="12.54" fill="rgb(255,170,170)"/>
<rect x="244.9" y="398.5" width="7.1" height="12.54" fill="rgb(255,184,184)"/>
<rect x="266.2" y="398.5" width="7.9" height="11.74" fill="rgb(255,227,227)"/>
<rect x="273.3" y="398.5" width="7.1" height="12.54" fill="rgb(255,128,128)"/>
<rect x="287.5" y="398.5" width="7.9" height="11.74" fill="rgb(255,227,227)"/>
<rect x="294.6" y="398.5" width="7.1" height="12.54" fill="rgb(255,113,113)"/>
<rect x="308.8" y="398.5" width="7.9" height="12.54" fill="rgb(255,170,170)"/>
<rect x="315.9" y="398.5" width="7.9" height="11.74" fill="rgb(255,227,227)"/>
<rect x="323" y="398.5" width="7.9" height="11.74" fill="rgb(255,156,156)"/>
<rect x="330.1" y="398.5" width="7.9" height="11.74" fill="rgb(255,71,71)"/>
<rect x="337.2" y="398.5" width="7.9" height="12.54" fill="rgb(255,184,184)"/>
<rect x="344.3" y="398.5" width="7.9" height="12.54" fill="rgb(255,142,142)"/>
<rect x="351.4" y="398.5" width="7.9" height="11.74" fill="rgb(255,212,212)"/>
<rect x="358.5" y="398.5" width="7.9" height="12.54" fill="rgb(255,227,227)"/>
<rect x="365.6" y="398.5" width="7.1" height="11.74" fill="rgb(255,156,156)"/>
<rect x="379.8" y="398.5" width="7.9" height="12.54" fill="rgb(255,128,128)"/>
<rect x="386.9" y="398.5" width="7.9" height="11.74" fill="rgb(255,184,184)"/>
<rect x="394" y="398.5" width="7.9" height="11.74" fill="rgb(255,170,170)"/>
<rect x="401.1" y="398.5" width="7.9" height="11.74" fill="rgb(255,113,113)"/>
<rect x="408.2" y="398.5" width="7.9" height="11.74" fill="rgb(255,128,128)"/>
<rect x="415.3" y="398.5" width="7.1" height="12.54" fill="rgb(255,71,71)"/>
<rect x="436.6" y="398.5" width="7.9" height="11.74" fill="rgb(255,85,85)"/>
<rect x="443.7" y="398.5" width="7.1" height="11.74" fill="rgb(255,198,198)"/>
<rect x="457.9" y="398.5" width="7.9" height="11.74" fill="rgb(255,170,170)"/>
<rect x="465" y="398.5" width="7.1" height="11.74" fill="rgb(255,156,156)"/>
<rect x="145.5" y="410.25" width="7.1" height="11.74" fill="rgb(255,212,212)"/>
<rect x="188.1" y="410.25" width="7.1" height="11.74" fill="rgb(255,227,227)"/>
<rect x="202.3" y="410.25" width="7.9" height="11.74" fill="rgb(255,142,142)"/>
<rect x="209.4" y="410.25" width="7.1" height="11.74" fill="rgb(255,142,142)"/>
<rect x="237.8" y="410.25" width="7.9" height="11.74" fill="rgb(255,170,170)"/>
<rect x="244.9" y="410.25" width="7.1" height="11.74" fill="rgb(255,212,212)"/>
<rect x="259.1" y="410.25" width="7.1" height="11.74" fill="rgb(255,227,227)"/>
<rect x="273.3" y="410.25" width="7.9" height="11.74" fill="rgb(255,85,85)"/>
<rect x="280.4" y="410.25" width="7.1" height="11.74" fill="rgb(255,227,227)"/>
<rect x="294.6" y="410.25" width="7.1" height="11.74" fill="rgb(255,184,184)"/>
<rect x="308.8" y="410.25" width="7.1" height="11.74" fill="rgb(255,227,227)"/>
<rect x="337.2" y="410.25" width="7.9" height="11.74" fill="rgb(255,198,198)"/>
<rect x="344.3" y="410.25" width="7.1" height="11.74" fill="rgb(255,184,184)"/>
<rect x="358.5" y="410.25" width="7.1" height="11.74" fill="rgb(255,227,227)"/>
<rect x="379.8" y="410.25" width="7.1" height="11.74" fill="rgb(255,113,113)"/>
<rect x="415.3" y="410.25" width="7.1" height="11.74" fill="rgb(255,227,227)"/>
<rect x="124.2" y="433.74" width="7.9" height="11.74" fill="rgb(255,156,156)"/>
<rect x="131.3" y="433.74" width="7.1" height="11.74" fill="rgb(255,184,184)"/>
<rect x="145.5" y="433.74" width="7.1" height="11.74" fill="rgb(255,142,142)"/>
<rect x="159.7" y="433.74" width="7.1" height="12.54" fill="rgb(255,170,170)"/>
<rect x="195.2" y="433.74" width="7.9" height="11.74" fill="rgb(255,227,227)"/>
<rect x="202.3" y="433.74" width="7.1" height="12.54" fill="rgb(255,99,99)"/>
<rect x="216.5" y="433.74" width="7.1" height="12.54" fill="rgb(255,142,142)"/>
<rect x="230.7" y="433.74" width="7.1" height="11.74" fill="rgb(255,212,212)"/>
<rect x="252" y="433.74" width="7.9" height="11.74" fill="rgb(255,212,212)"/>
<rect x="259.1" y="433.74" width="7.9" height="12.54" fill="rgb(255,142,142)"/>
<rect x="266.2" y="433.74" width="7.1" height="12.54" fill="rgb(255,227,227)"/>
<rect x="287.5" y="433.74" width="7.1" height="12.54" fill="rgb(255,156,156)"/>
<rect x="351.4" y="433.74" width="7.9" height="12.54" fill="rgb(255,170,170)"/>
<rect x="358.5" y="433.74" width="7.9" height="11.74" fill="rgb(255,156,156)"/>
<rect x="365.6" y="433.74" width="7.9" height="11.74" fill="rgb(255,85,85)"/>
<rect x="372.7" y="433.74" width="7.1" height="11.74" fill="rgb(255,142,142)"/>
<rect x="415.3" y="433.74" width="7.1" height="11.74" fill="rgb(255,113,113)"/>
<rect x="450.8" y="433.74" width="7.1" height="11.74" fill="rgb(255,156,156)"/>
<rect x="465" y="433.74" width="7.1" height="11.74" fill="rgb(255,184,184)"/>
<rect x="159.7" y="445.49" width="7.1" height="12.54" fill="rgb(255,184,184)"/>
<rect x="173.9" y="445.49" width="7.1" height="11.74" fill="rgb(255,170,170)"/>
<rect x="202.3" y="445.49" width="7.9" height="11.74" fill="rgb(255,113,113)"/>
<rect x="209.4" y="445.49" width="7.9" height="11.74" fill="rgb(255,212,212)"/>
<rect x="216.5" y="445.49" width="7.1" height="11.74" fill="rgb(255,227,227)"/>
<rect x="237.8" y="445.49" width="7.1" height="11.74" fill="rgb(255,142,142)"/>
<rect x="259.1" y="445.49" width="7.9" height="11.74" fill="rgb(255,156,156)"/>
<rect x="266.2" y="445.49" width="7.9" height="11.74" fill="rgb(255,212,212)"/>
<rect x="273.3" y="445.49" width="7.1" height="11.74" fill="rgb(255,128,128)"/>
<rect x="287.5" y="445.49" width="7.1" height="11.74" fill="rgb(255,128,128)"/>
<rect x="351.4" y="445.49" width="7.1" height="11.74" fill="rgb(255,14,14)"/>
<rect x="422.4" y="445.49" width="7.9" height="12.54" fill="rgb(255,71,71)"/>
<rect x="429.5" y="445.49" width="7.9" height="11.74" fill="rgb(255,142,142)"/>
<rect x="436.6" y="445.49" width="7.1" height="11.74" fill="rgb(255,227,227)"/>
<rect x="124.2" y="457.23" width="7.1" height="11.74" fill="rgb(255,28,28)"/>
<rect x="159.7" y="457.23" width="7.1" height="11.74" fill="rgb(255,0,0)"/>
<rect x="195.2" y="457.23" width="7.1" height="11.74" fill="rgb(255,128,128)"/>
<rect x="252" y="457.23" width="7.1" height="11.74" fill="rgb(255,0,0)"/>
<rect x="301.7" y="457.23" width="7.1" height="11.74" fill="rgb(255,28,28)"/>
<rect x="422.4" y="457.23" width="7.1" height="11.74" fill="rgb(255,227,227)"/>
<rect x="152.6" y="480.72" width="7.1" height="12.54" fill="rgb(255,156,156)"/>
<rect x="436.6" y="480.72" width="7.1" height="11.74" fill="rgb(255,0,0)"/>
<rect x="152.6" y="492.46" width="7.1" height="11.74" fill="rgb(255,0,0)"/>
<rect x="358.5" y="492.46" width="7.1" height="11.74" fill="rgb(255,227,227)"/>
<rect x="330" y="533.8" width="7.06" height="12.55" fill="rgb(128,128,255)"/>
<rect x="125.26" y="545.55" width="7.06" height="11.75" fill="rgb(0,0,255)"/>
<rect x="146.44" y="545.55" width="7.86" height="11.75" fill="rgb(0,0,255)"/>
<rect x="153.5" y="545.55" width="7.06" height="11.75" fill="rgb(0,0,255)"/>
<rect x="174.68" y="545.55" width="7.06" height="12.55" fill="rgb(0,0,255)"/>
<rect x="195.86" y="545.55" width="7.86" height="11.75" fill="rgb(0,0,255)"/>
<rect x="202.92" y="545.55" width="7.06" height="11.75" fill="rgb(0,0,255)"/>
<rect x="217.04" y="545.55" width="7.06" height="11.75" fill="rgb(0,0,255)"/>
<rect x="238.22" y="545.55" width="7.06" height="11.75" fill="rgb(0,0,255)"/>
<rect x="330" y="545.55" width="7.06" height="11.75" fill="rgb(0,0,255)"/>
<rect x="358.24" y="545.55" width="7.06" height="12.55" fill="rgb(0,0,255)"/>
<rect x="379.42" y="545.55" width="7.06" height="11.75" fill="rgb(0,0,255)"/>
<rect x="457.08" y="545.55" width="7.06" height="11.75" fill="rgb(0,0,255)"/>
<rect x="174.68" y="557.3" width="7.06" height="11.75" fill="rgb(156,156,255)"/>
<rect x="358.24" y="557.3" width="7.06" height="11.75" fill="rgb(184,184,255)"/>
<line x1="49.1" y1="156.5" x2="54.6" y2="156.5" stroke="#2a2a2a" stroke-width="1"/>
<line x1="49.1" y1="156.5" x2="49.1" y2="161.6" stroke="#2a2a2a" stroke-width="1"/>
<line x1="49.6" y1="161.6" x2="49.6" y2="168.3" stroke="#2a2a2a" stroke-width="1"/>
<line x1="49.6" y1="168.3" x2="51" y2="168.3" stroke="#2a2a2a" stroke-width="1"/>
<line x1="47.0" y1="161.6" x2="47.0" y2="170.7" stroke="#969696" stroke-width="1.6"/>
<line x1="47.1" y1="170.7" x2="47.1" y2="179.1" stroke="#969696" stroke-width="1.6"/>
<line x1="47.1" y1="179.1" x2="49.7" y2="179.1" stroke="#969696" stroke-width="1.2"/>
<line x1="43.7" y1="170.7" x2="43.7" y2="180.6" stroke="#969696" stroke-width="1.6"/>
<line x1="44.1" y1="180.6" x2="44.1" y2="191.4" stroke="#969696" stroke-width="1.6"/>
<line x1="44.1" y1="191.4" x2="49.7" y2="191.4" stroke="#969696" stroke-width="1.2"/>
<line x1="39.2" y1="180.6" x2="39.2" y2="192.6" stroke="#969696" stroke-width="1.6"/>
<line x1="39.2" y1="192.6" x2="39.2" y2="203.5" stroke="#969696" stroke-width="1.6"/>
<line x1="39.2" y1="203.5" x2="52.1" y2="203.5" stroke="#2a2a2a" stroke-width="1"/>
<line x1="34.9" y1="192.6" x2="34.9" y2="206.8" stroke="#969696" stroke-width="1.6"/>
<line x1="34.9" y1="206.8" x2="34.9" y2="221.2" stroke="#969696" stroke-width="1.6"/>
<line x1="34.9" y1="221.2" x2="48.5" y2="221.2" stroke="#2a2a2a" stroke-width="1"/>
<line x1="48.6" y1="215.3" x2="48.6" y2="227.4" stroke="#2a2a2a" stroke-width="1"/>
<line x1="48.6" y1="215.3" x2="56.2" y2="215.3" stroke="#2a2a2a" stroke-width="1"/>
<line x1="48.6" y1="227.4" x2="55.2" y2="227.4" stroke="#2a2a2a" stroke-width="1"/>
<line x1="32.5" y1="207" x2="34.9" y2="207" stroke="#2a2a2a" stroke-width="1"/>
<line x1="32.5" y1="207" x2="32.5" y2="244.6" stroke="#2a2a2a" stroke-width="1"/>
<line x1="32.5" y1="244.6" x2="35.4" y2="244.6" stroke="#2a2a2a" stroke-width="1"/>
<line x1="35.4" y1="238.8" x2="35.4" y2="250.8" stroke="#2a2a2a" stroke-width="1"/>
<line x1="35.4" y1="238.8" x2="59.7" y2="238.8" stroke="#969696" stroke-width="1.2"/>
<line x1="35.4" y1="250.6" x2="67.3" y2="250.6" stroke="#969696" stroke-width="1.2"/>
<line x1="30" y1="225.7" x2="32.5" y2="225.7" stroke="#969696" stroke-width="1.2"/>
<line x1="30" y1="225.7" x2="30" y2="247.8" stroke="#969696" stroke-width="1.6"/>
<line x1="29.3" y1="247.8" x2="29.3" y2="271.8" stroke="#2a2a2a" stroke-width="1.5"/>
<line x1="29.3" y1="262.4" x2="30.9" y2="262.4" stroke="#2a2a2a" stroke-width="1"/>
<line x1="30.9" y1="262.4" x2="30.9" y2="280.5" stroke="#2a2a2a" stroke-width="1"/>
<line x1="30.9" y1="262.4" x2="48.5" y2="262.4" stroke="#969696" stroke-width="1.2"/>
<line x1="30.9" y1="280.5" x2="38" y2="280.5" stroke="#2a2a2a" stroke-width="1"/>
<line x1="38" y1="274.5" x2="38" y2="285.8" stroke="#2a2a2a" stroke-width="1"/>
<line x1="38" y1="274.5" x2="50.6" y2="274.5" stroke="#2a2a2a" stroke-width="1"/>
<line x1="38" y1="285.8" x2="46.3" y2="285.8" stroke="#2a2a2a" stroke-width="1"/>
<line x1="28.7" y1="271.8" x2="28.7" y2="297.9" stroke="#969696" stroke-width="1.6"/>
<line x1="28.7" y1="297.9" x2="52.7" y2="297.9" stroke="#969696" stroke-width="2"/>
<line x1="26.5" y1="273.4" x2="29.3" y2="273.4" stroke="#2a2a2a" stroke-width="1"/>
<line x1="26.5" y1="273.4" x2="26.5" y2="291" stroke="#2a2a2a" stroke-width="1"/>
<line x1="26.2" y1="291" x2="26.2" y2="311.3" stroke="#2a2a2a" stroke-width="2"/>
<line x1="20.5" y1="311.3" x2="49.7" y2="311.3" stroke="#969696" stroke-width="1.2"/>
<line x1="25.8" y1="311.3" x2="25.8" y2="330.3" stroke="#2a2a2a" stroke-width="1.2"/>
<line x1="25.8" y1="330.3" x2="41.7" y2="330.3" stroke="#2a2a2a" stroke-width="1"/>
<line x1="42.8" y1="321.6" x2="42.8" y2="347.7" stroke="#2a2a2a" stroke-width="1"/>
<line x1="42.3" y1="333" x2="42.3" y2="345.5" stroke="#969696" stroke-width="1.6"/>
<line x1="42.8" y1="321.6" x2="48.1" y2="321.6" stroke="#2a2a2a" stroke-width="1"/>
<line x1="42.8" y1="333" x2="47" y2="333" stroke="#2a2a2a" stroke-width="1"/>
<line x1="42.8" y1="347.7" x2="48" y2="347.7" stroke="#2a2a2a" stroke-width="1"/>
<line x1="20.8" y1="311.3" x2="20.8" y2="349" stroke="#969696" stroke-width="1.6"/>
<line x1="19.6" y1="349" x2="19.6" y2="391" stroke="#969696" stroke-width="3"/>
<line x1="21.3" y1="371.6" x2="30.2" y2="371.6" stroke="#969696" stroke-width="1.2"/>
<line x1="21.3" y1="371.3" x2="21.3" y2="400.9" stroke="#2a2a2a" stroke-width="1"/>
<line x1="30.2" y1="363" x2="30.2" y2="380.4" stroke="#2a2a2a" stroke-width="1"/>
<line x1="30.2" y1="363" x2="48.8" y2="363" stroke="#969696" stroke-width="1.2"/>
<line x1="49.3" y1="357.2" x2="49.3" y2="368.5" stroke="#2a2a2a" stroke-width="1"/>
<line x1="48.9" y1="364" x2="48.9" y2="367.5" stroke="#969696" stroke-width="1.4"/>
<line x1="49.3" y1="357.2" x2="54.6" y2="357.2" stroke="#2a2a2a" stroke-width="1"/>
<line x1="49.3" y1="368.5" x2="54.6" y2="368.5" stroke="#2a2a2a" stroke-width="1"/>
<line x1="30.2" y1="380.4" x2="67.4" y2="380.4" stroke="#2a2a2a" stroke-width="1"/>
<line x1="21.3" y1="400.9" x2="24.9" y2="400.9" stroke="#2a2a2a" stroke-width="1"/>
<line x1="24.9" y1="392.4" x2="24.9" y2="410.8" stroke="#2a2a2a" stroke-width="1"/>
<line x1="24.9" y1="392.4" x2="45.8" y2="392.4" stroke="#2a2a2a" stroke-width="1"/>
<line x1="24.9" y1="410.8" x2="28.5" y2="410.8" stroke="#2a2a2a" stroke-width="1"/>
<line x1="28.5" y1="404.5" x2="28.5" y2="415.8" stroke="#2a2a2a" stroke-width="1"/>
<line x1="28.5" y1="404.5" x2="48.1" y2="404.5" stroke="#2a2a2a" stroke-width="1"/>
<line x1="28.5" y1="415.8" x2="47" y2="415.8" stroke="#2a2a2a" stroke-width="1"/>
<line x1="17.6" y1="391" x2="17.6" y2="451" stroke="#969696" stroke-width="3"/>
<line x1="17.6" y1="433.9" x2="45.8" y2="433.9" stroke="#969696" stroke-width="1.2"/>
<line x1="45.8" y1="428.5" x2="45.8" y2="440.1" stroke="#2a2a2a" stroke-width="1"/>
<line x1="45.8" y1="428.5" x2="50.5" y2="428.5" stroke="#2a2a2a" stroke-width="1"/>
<line x1="45.8" y1="440.1" x2="50.5" y2="440.1" stroke="#2a2a2a" stroke-width="1"/>
<line x1="17.9" y1="451.2" x2="51.6" y2="451.2" stroke="#969696" stroke-width="1.2"/>
<line x1="14.5" y1="420.8" x2="14.5" y2="463.5" stroke="#2a2a2a" stroke-width="1"/>
<line x1="14.5" y1="420.8" x2="17" y2="420.8" stroke="#2a2a2a" stroke-width="1"/>
<line x1="14.5" y1="463.5" x2="39.7" y2="463.5" stroke="#969696" stroke-width="1.2"/>
<line x1="14" y1="442.7" x2="14" y2="483.4" stroke="#969696" stroke-width="3"/>
<line x1="15.9" y1="475.3" x2="46.5" y2="475.3" stroke="#969696" stroke-width="1.2"/>
<line x1="15.9" y1="475.5" x2="15.9" y2="493.3" stroke="#969696" stroke-width="1.6"/>
<line x1="15.9" y1="493.3" x2="24.5" y2="493.3" stroke="#969696" stroke-width="1.2"/>
<line x1="24.9" y1="486.8" x2="24.9" y2="499.3" stroke="#969696" stroke-width="1.6"/>
<line x1="24.9" y1="486.8" x2="67.9" y2="486.8" stroke="#969696" stroke-width="1.2"/>
<line x1="24.9" y1="499.3" x2="53.5" y2="499.3" stroke="#969696" stroke-width="1.2"/>
<circle cx="48.6" cy="161.6" r="2.5" fill="#000"/>
<circle cx="46.7" cy="170.7" r="2.5" fill="#000"/>
<circle cx="43.4" cy="180.6" r="2.5" fill="#000"/>
<circle cx="48.5" cy="221.1" r="2.5" fill="#000"/>
<circle cx="38" cy="280.2" r="2.5" fill="#000"/>
<circle cx="41.7" cy="330.5" r="2.5" fill="#000"/>
<circle cx="48.8" cy="362.8" r="2.5" fill="#000"/>
<circle cx="45.8" cy="434.0" r="2.5" fill="#000"/>
<circle cx="39.2" cy="192.7" r="2.5" fill="#8c8c8c"/>
<circle cx="34.9" cy="206.8" r="2.5" fill="#8c8c8c"/>
<circle cx="25.3" cy="311.2" r="2.5" fill="#8c8c8c"/>
<circle cx="30.2" cy="371.6" r="2.5" fill="#8c8c8c"/>
<circle cx="24.2" cy="493.3" r="2.5" fill="#8c8c8c"/>
<line x1="25" y1="505.8" x2="39.8" y2="505.8" stroke="#000" stroke-width="2"/>
<line x1="26.7" y1="520.2" x2="40.5" y2="520.2" stroke="#444" stroke-width="0.8"/>
<line x1="26.7" y1="518.1" x2="26.7" y2="522.8" stroke="#777" stroke-width="1"/>
<line x1="40.5" y1="518.1" x2="40.5" y2="522.8" stroke="#222" stroke-width="1"/>
<line x1="10.2" y1="539.5" x2="29.4" y2="539.5" stroke="#2a2a2a" stroke-width="1"/>
<line x1="10.2" y1="551.3" x2="27.3" y2="551.3" stroke="#2a2a2a" stroke-width="1"/>
<line x1="9.1" y1="563.6" x2="29.4" y2="563.6" stroke="#2a2a2a" stroke-width="1"/>
<line x1="10.2" y1="539.5" x2="10.2" y2="551.3" stroke="#2a2a2a" stroke-width="1"/>
<line x1="9.1" y1="545.4" x2="9.1" y2="563.6" stroke="#2a2a2a" stroke-width="1"/>
<line x1="9.1" y1="545.4" x2="10.2" y2="545.4" stroke="#2a2a2a" stroke-width="1"/>
<line x1="27.7" y1="577" x2="36.8" y2="577" stroke="#000" stroke-width="2"/>
<text x="57.88" y="159.0" font-size="10.4" fill="#000" textLength="4.92" lengthAdjust="spacingAndGlyphs"><tspan font-weight="bold" font-style="normal">a</tspan></text>
<text x="53.74" y="171.8" font-size="10.4" fill="#000" textLength="6.55" lengthAdjust="spacingAndGlyphs"><tspan font-weight="bold" font-style="normal">b</tspan></text>
<text x="53.95" y="183.2" font-size="10.4" fill="#000" textLength="4.92" lengthAdjust="spacingAndGlyphs"><tspan font-weight="bold" font-style="normal">c</tspan></text>
<text x="52.86" y="194.0" font-size="10.4" fill="#000" textLength="5.82" lengthAdjust="spacingAndGlyphs"><tspan font-weight="bold" font-style="normal">d</tspan></text>
<text x="54.86" y="206.2" font-size="10.4" fill="#000" textLength="5.53" lengthAdjust="spacingAndGlyphs"><tspan font-weight="bold" font-style="normal">e</tspan></text>
<text x="58.49" y="219.4" font-size="10.4" fill="#000" textLength="3.04" lengthAdjust="spacingAndGlyphs"><tspan font-weight="bold" font-style="normal">f</tspan></text>
<text x="58.24" y="229.6" font-size="10.4" fill="#000" textLength="6.07" lengthAdjust="spacingAndGlyphs"><tspan font-weight="bold" font-style="normal">g</tspan></text>
<text x="50.45" y="266.8" font-size="10.4" fill="#000" textLength="6.12" lengthAdjust="spacingAndGlyphs"><tspan font-weight="bold" font-style="normal">h</tspan></text>
<text x="53.53" y="278.0" font-size="10.4" fill="#000" textLength="2.46" lengthAdjust="spacingAndGlyphs"><tspan font-weight="bold" font-style="normal">i</tspan></text>
<text x="50.73" y="289.2" font-size="10.4" fill="#000" textLength="3.24" lengthAdjust="spacingAndGlyphs"><tspan font-weight="bold" font-style="normal">j</tspan></text>
<text x="56.46" y="302.0" font-size="10.4" fill="#000" textLength="5.48" lengthAdjust="spacingAndGlyphs"><tspan font-weight="bold" font-style="normal">k</tspan></text>
<text x="50.79" y="326.3" font-size="10.4" fill="#000" textLength="2.63" lengthAdjust="spacingAndGlyphs"><tspan font-weight="bold" font-style="normal">l</tspan></text>
<text x="48.35" y="337.2" font-size="10.4" fill="#000" textLength="9.46" lengthAdjust="spacingAndGlyphs"><tspan font-weight="bold" font-style="normal">m</tspan></text>
<text x="58.18" y="359.8" font-size="10.4" fill="#000" textLength="6.20" lengthAdjust="spacingAndGlyphs"><tspan font-weight="bold" font-style="normal">n</tspan></text>
<text x="58.49" y="372.1" font-size="10.4" fill="#000" textLength="5.62" lengthAdjust="spacingAndGlyphs"><tspan font-weight="bold" font-style="normal">o</tspan></text>
<text x="70.46" y="383.7" font-size="10.4" fill="#000" textLength="6.42" lengthAdjust="spacingAndGlyphs"><tspan font-weight="bold" font-style="normal">p</tspan></text>
<text x="52.51" y="442.4" font-size="10.4" fill="#000" textLength="5.40" lengthAdjust="spacingAndGlyphs"><tspan font-weight="bold" font-style="normal">q</tspan></text>
<text x="54.71" y="454.7" font-size="10.4" fill="#000" textLength="3.79" lengthAdjust="spacingAndGlyphs"><tspan font-weight="bold" font-style="normal">r</tspan></text>
<text x="42.47" y="466.1" font-size="10.4" fill="#000" textLength="4.92" lengthAdjust="spacingAndGlyphs"><tspan font-weight="bold" font-style="normal">s</tspan></text>
<text x="71.76" y="490.1" font-size="10.4" fill="#000" textLength="3.88" lengthAdjust="spacingAndGlyphs"><tspan font-weight="bold" font-style="normal">t</tspan></text>
<text x="63.03" y="242.7" font-size="10.2" fill="#000" textLength="113.80" lengthAdjust="spacingAndGlyphs"><tspan font-weight="bold" font-style="italic">Eubacterium</tspan><tspan font-weight="bold" font-style="normal"> sp. AB3007</tspan></text>
<text x="70.02" y="254.4" font-size="10.2" fill="#000" textLength="64.29" lengthAdjust="spacingAndGlyphs"><tspan font-weight="bold" font-style="italic">Dorea</tspan><tspan font-weight="bold" font-style="normal"> sp. 52*</tspan></text>
<text x="52.31" y="312.8" font-size="10.2" fill="#000" textLength="90.00" lengthAdjust="spacingAndGlyphs"><tspan font-weight="bold" font-style="italic">C. clostridioforme</tspan><tspan font-weight="bold" font-style="normal">*</tspan></text>
<text x="50.72" y="348.8" font-size="10.2" fill="#000" textLength="96.59" lengthAdjust="spacingAndGlyphs"><tspan font-weight="bold" font-style="italic">Clostridium</tspan><tspan font-weight="bold" font-style="normal"> sp. AT5*</tspan></text>
<text x="47.61" y="395.3" font-size="10.2" fill="#000" textLength="65.70" lengthAdjust="spacingAndGlyphs"><tspan font-weight="bold" font-style="italic">C. hathewayi</tspan><tspan font-weight="bold" font-style="normal">*</tspan></text>
<text x="50.00" y="407.7" font-size="10.2" fill="#000" textLength="59.31" lengthAdjust="spacingAndGlyphs"><tspan font-weight="bold" font-style="italic">C. citroniae</tspan><tspan font-weight="bold" font-style="normal">*</tspan></text>
<text x="48.81" y="418.6" font-size="10.2" fill="#000" textLength="85.80" lengthAdjust="spacingAndGlyphs"><tspan font-weight="bold" font-style="italic">C. asparagiforme</tspan><tspan font-weight="bold" font-style="normal">*</tspan></text>
<text x="53.53" y="430.8" font-size="10.2" fill="#000" textLength="87.64" lengthAdjust="spacingAndGlyphs"><tspan font-weight="bold" font-style="italic">Collinsella</tspan><tspan font-weight="bold" font-style="normal"> sp. MS5</tspan></text>
<text x="49.13" y="478.9" font-size="10.2" fill="#000" textLength="74.90" lengthAdjust="spacingAndGlyphs"><tspan font-weight="bold" font-style="italic">D. desulfuricans</tspan></text>
<text x="58.43" y="501.3" font-size="10.2" fill="#000" textLength="48.12" lengthAdjust="spacingAndGlyphs"><tspan font-weight="bold" font-style="italic">Klebsiella/</tspan></text>
<text x="52.63" y="514.7" font-size="10.2" fill="#000" textLength="60.93" lengthAdjust="spacingAndGlyphs"><tspan font-weight="bold" font-style="italic">Enterobacter</tspan></text>
<text x="31.92" y="543.3" font-size="10.2" fill="#000" textLength="52.23" lengthAdjust="spacingAndGlyphs"><tspan font-weight="bold" font-style="italic">Citrobacter</tspan></text>
<text x="30.03" y="554.7" font-size="10.2" fill="#000" textLength="94.76" lengthAdjust="spacingAndGlyphs"><tspan font-weight="bold" font-style="italic">Escherichia/Shigella</tspan></text>
<text x="32.23" y="566.8" font-size="10.2" fill="#000" textLength="44.14" lengthAdjust="spacingAndGlyphs"><tspan font-weight="bold" font-style="italic">Klebsiella</tspan></text>
<text x="76.23" y="595.0" font-size="11.0" fill="#000" textLength="50.56" lengthAdjust="spacingAndGlyphs"><tspan font-weight="bold" font-style="normal">bootstrap:</tspan></text>
<text x="138.23" y="595.0" font-size="11.0" fill="#000" textLength="18.93" lengthAdjust="spacingAndGlyphs"><tspan font-weight="bold" font-style="normal">&gt;90</tspan></text>
<text x="171.85" y="595.0" font-size="11.0" fill="#000" textLength="28.91" lengthAdjust="spacingAndGlyphs"><tspan font-weight="bold" font-style="normal">50-90</tspan></text>
<text x="232.49" y="595.0" font-size="11.0" fill="#000" textLength="126.48" lengthAdjust="spacingAndGlyphs"><tspan font-weight="bold" font-style="italic">cutC/cntA</tspan><tspan font-weight="bold" font-style="normal"> community (%):</tspan></text>
<text x="366.54" y="602.8" font-size="11.0" fill="#000" textLength="6.43" lengthAdjust="spacingAndGlyphs"><tspan font-weight="bold" font-style="normal">0</tspan></text>
<text x="392.58" y="602.8" font-size="11.0" fill="#000" textLength="14.56" lengthAdjust="spacingAndGlyphs"><tspan font-weight="bold" font-style="normal">10</tspan></text>
<text x="430.61" y="602.8" font-size="11.0" fill="#000" textLength="6.90" lengthAdjust="spacingAndGlyphs"><tspan font-weight="bold" font-style="normal">0</tspan></text>
<text x="446.57" y="602.8" font-size="11.0" fill="#000" textLength="12.91" lengthAdjust="spacingAndGlyphs"><tspan font-weight="bold" font-style="normal">10</tspan></text>
<text x="22.60" y="516.5" font-size="10.3" fill="#000" textLength="19.47" lengthAdjust="spacingAndGlyphs"><tspan font-weight="bold" font-style="normal">0.05</tspan></text>
<text x="20.80" y="588.2" font-size="9.9" fill="#000" textLength="19.86" lengthAdjust="spacingAndGlyphs"><tspan font-weight="bold" font-style="normal">0.04</tspan></text>
<circle cx="133.6" cy="591.2" r="4.5" fill="#000"/>
<circle cx="165.5" cy="591.2" r="4.5" fill="#8c8c8c"/>
<defs><linearGradient id="gr" x1="0" x2="1" y1="0" y2="0"><stop offset="0" stop-color="#fff"/><stop offset="1" stop-color="#f00"/></linearGradient><linearGradient id="gb" x1="0" x2="1" y1="0" y2="0"><stop offset="0" stop-color="#fff"/><stop offset="1" stop-color="#00f"/></linearGradient></defs>
<rect x="368.4" y="576.1" width="38.2" height="15.8" fill="url(#gr)"/>
<rect x="431.9" y="576.1" width="39.3" height="15.9" fill="url(#gb)"/>
<line x1="368.6" y1="576" x2="368.6" y2="592" stroke="#c8c8d0" stroke-width="0.7"/>
<line x1="432.1" y1="576" x2="432.1" y2="592" stroke="#c8c8d0" stroke-width="0.7"/>
</svg>
</body></html>
